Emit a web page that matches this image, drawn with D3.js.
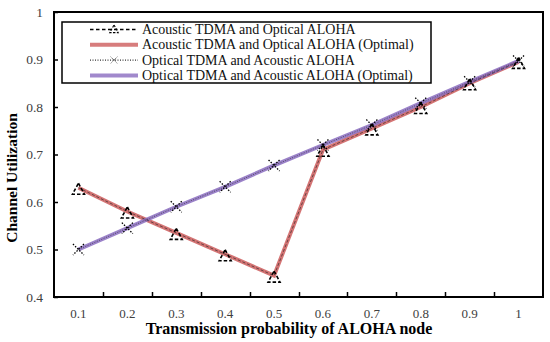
<html>
<head>
<script src="https://d3js.org/d3.v7.min.js"></script>
<style>
  body { margin: 0; background: #fff; }
  text { font-family: "Liberation Serif", serif; }
</style>
</head>
<body>
<script>
var categories = ["0.1", "0.2", "0.3", "0.4", "0.5", "0.6", "0.7", "0.8", "0.9", "1"];
var acousticTdma = [0.63, 0.58, 0.535, 0.49, 0.445, 0.71, 0.755, 0.80, 0.85, 0.895];
var acousticTdmaOpt = [0.63, 0.58, 0.535, 0.49, 0.445, 0.71, 0.755, 0.80, 0.85, 0.895];
var opticalTdma = [0.50, 0.545, 0.59, 0.632, 0.677, 0.72, 0.762, 0.808, 0.853, 0.897];
var opticalTdmaOpt = [0.50, 0.545, 0.59, 0.632, 0.677, 0.72, 0.762, 0.808, 0.853, 0.897];
var yTicks = [0.4, 0.5, 0.6, 0.7, 0.8, 0.9, 1];
var legendLabels = ["Acoustic TDMA and Optical ALOHA", "Acoustic TDMA and Optical ALOHA (Optimal)",
                    "Optical TDMA and Acoustic ALOHA", "Optical TDMA and Acoustic ALOHA (Optimal)"];

var width = 550, height = 342;
var margin = {top: 12, right: 7, bottom: 45, left: 54};

var svg = d3.select("body").append("svg")
    .attr("width", width)
    .attr("height", height);

var x = d3.scaleBand().domain(categories).range([margin.left, width - margin.right]);
var y = d3.scaleLinear().domain([0.4, 1]).range([height - margin.bottom, margin.top]);

// axes
var xAxis = svg.append("g")
    .attr("transform", "translate(0," + (height - margin.bottom) + ")")
    .call(d3.axisBottom(x).tickSize(0).tickPadding(12));
xAxis.select(".domain").remove();
xAxis.selectAll("text").attr("fill", "#404040").style("font-size", "13px");
// x ticks between categories, pointing up
svg.append("g").selectAll("line")
    .data(categories.slice(1))
    .enter().append("line")
    .attr("x1", function(d) { return Math.round(x(d)) + 0.5; })
    .attr("x2", function(d) { return Math.round(x(d)) + 0.5; })
    .attr("y1", height - margin.bottom)
    .attr("y2", height - margin.bottom - 5)
    .attr("stroke", "#000").attr("stroke-width", 1.5);

var yAxis = svg.append("g")
    .attr("transform", "translate(" + margin.left + ",0)")
    .call(d3.axisLeft(y).tickValues(yTicks).tickFormat(d3.format("")).tickSize(-4).tickPadding(11));
yAxis.select(".domain").remove();
yAxis.selectAll("line").attr("stroke-width", 1.5);
yAxis.selectAll("text").attr("fill", "#404040").style("font-size", "13.5px");

// frame
svg.append("rect")
    .attr("x", margin.left).attr("y", margin.top)
    .attr("width", width - margin.left - margin.right)
    .attr("height", height - margin.top - margin.bottom)
    .attr("fill", "none").attr("stroke", "#000").attr("stroke-width", 2);

var line = d3.line()
    .x(function(d, i) { return x(categories[i]) + x.bandwidth() / 2; })
    .y(function(d) { return y(d); });

// optimal (thick) lines
svg.append("path").datum(acousticTdmaOpt).attr("d", line)
    .attr("fill", "none").attr("stroke", "#cd5c5c").attr("stroke-opacity", 0.85).attr("stroke-width", 4);
svg.append("path").datum(opticalTdmaOpt).attr("d", line)
    .attr("fill", "none").attr("stroke", "#8a6cbf").attr("stroke-opacity", 0.85).attr("stroke-width", 4);

// simulation lines
svg.append("path").datum(acousticTdma).attr("d", line)
    .attr("fill", "none").attr("stroke", "#222").attr("stroke-width", 1).attr("stroke-dasharray", "3,2").attr("opacity", 0.6);
svg.append("path").datum(opticalTdma).attr("d", line)
    .attr("fill", "none").attr("stroke", "#222").attr("stroke-width", 1).attr("stroke-dasharray", "1,1.5").attr("opacity", 0.6);

function triangle(g) {
    g.append("path").attr("d", "M0,-6.5L6,4.5L-6,4.5Z")
        .attr("fill", "none").attr("stroke", "#000").attr("stroke-width", 1.6).attr("stroke-dasharray", "3.5,2");
}
function cross(g) {
    g.append("path").attr("d", "M-5.5,-5.5L5.5,5.5M5.5,-5.5L-5.5,5.5")
        .attr("fill", "none").attr("stroke", "#000").attr("stroke-width", 1.3).attr("stroke-dasharray", "1.5,1.5");
}

svg.append("g").selectAll("g")
    .data(acousticTdma).enter().append("g")
    .attr("transform", function(d, i) { return "translate(" + (x(categories[i]) + x.bandwidth() / 2) + "," + (y(d) + 2) + ")"; })
    .each(function() { triangle(d3.select(this)); });
svg.append("g").selectAll("g")
    .data(opticalTdma).enter().append("g")
    .attr("transform", function(d, i) { return "translate(" + (x(categories[i]) + x.bandwidth() / 2) + "," + y(d) + ")"; })
    .each(function() { cross(d3.select(this)); });

// axis titles
svg.append("text")
    .attr("x", 289)
    .attr("y", 334)
    .attr("text-anchor", "middle")
    .style("font-size", "16px").style("font-weight", "bold")
    .text("Transmission probability of ALOHA node");
svg.append("text")
    .attr("transform", "translate(17,178) rotate(-90)")
    .attr("text-anchor", "middle")
    .style("font-size", "15.5px").style("font-weight", "bold")
    .text("Channel Utilization");

// legend
var legend = svg.append("g");
legend.append("rect")
    .attr("x", 62).attr("y", 22).attr("width", 369).attr("height", 61)
    .attr("fill", "#fff").attr("stroke", "#000").attr("stroke-width", 1.5);
var rows = legend.selectAll("g.row").data(legendLabels).enter().append("g")
    .attr("class", "row")
    .attr("transform", function(d, i) { return "translate(0," + (29.5 + i * 15.3) + ")"; });
rows.append("text")
    .attr("x", 142).attr("dy", "0.33em")
    .style("font-size", "14px").attr("fill", "#111")
    .text(function(d) { return d; });
var r0 = d3.select(rows.nodes()[0]);
r0.append("line").attr("x1", 90).attr("x2", 138).attr("stroke", "#000").attr("stroke-width", 1.3).attr("stroke-dasharray", "3.5,2.5");
r0.append("g").attr("transform", "translate(114,0) scale(0.7)").call(triangle);
var r1 = d3.select(rows.nodes()[1]);
r1.append("line").attr("x1", 90).attr("x2", 138).attr("stroke", "#cd5c5c").attr("stroke-opacity", 0.8).attr("stroke-width", 4);
var r2 = d3.select(rows.nodes()[2]);
r2.append("line").attr("x1", 90).attr("x2", 138).attr("stroke", "#000").attr("stroke-width", 1).attr("stroke-dasharray", "1,1.5");
r2.append("g").attr("transform", "translate(114,0) scale(0.6)").call(cross);
var r3 = d3.select(rows.nodes()[3]);
r3.append("line").attr("x1", 90).attr("x2", 138).attr("stroke", "#8a6cbf").attr("stroke-opacity", 0.8).attr("stroke-width", 4);
</script>
</body>
</html>
